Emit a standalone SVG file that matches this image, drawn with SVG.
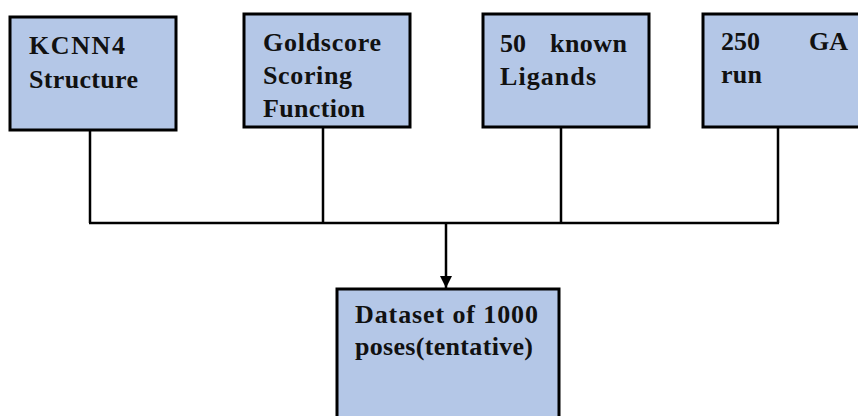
<svg xmlns="http://www.w3.org/2000/svg" width="858" height="416" viewBox="0 0 858 416">
<style>
.box{fill:#B4C7E7;stroke:#000;stroke-width:3}
.lbl{font-family:"Liberation Serif","Times New Roman",serif;font-weight:bold;font-size:26px;fill:#111}
.conn{stroke:#000;stroke-width:2.5;fill:none}
</style>
<defs>
<marker id="arr" markerUnits="userSpaceOnUse" markerWidth="14" markerHeight="12" refX="12" refY="6" orient="auto">
<path d="M0,0 L12,6 L0,12 z" fill="#000"/>
</marker>
</defs>
<rect width="858" height="416" fill="#fff"/>
<g id="connectors">
<path class="conn" d="M90,130 V223 M323,127 V223 M561,127 V223 M778,127 V223 M89,223 H779"/>
<path class="conn" d="M446,223 V288" marker-end="url(#arr)"/>
</g>
<g id="kcnn4">
<rect class="box" x="10" y="17" width="166" height="113"/>
<text class="lbl" x="29" y="54" textLength="96" lengthAdjust="spacing">KCNN4</text>
<text class="lbl" x="29" y="88" textLength="109" lengthAdjust="spacing">Structure</text>
</g>
<g id="goldscore">
<rect class="box" x="244" y="14" width="166" height="113"/>
<text class="lbl" x="263" y="51" textLength="118" lengthAdjust="spacing">Goldscore</text>
<text class="lbl" x="263" y="84" textLength="89" lengthAdjust="spacing">Scoring</text>
<text class="lbl" x="263" y="117" textLength="102" lengthAdjust="spacing">Function</text>
</g>
<g id="ligands">
<rect class="box" x="483" y="14" width="166" height="113"/>
<text class="lbl" y="52"><tspan x="500">50</tspan><tspan x="550" textLength="77" lengthAdjust="spacing">known</tspan></text>
<text class="lbl" x="500" y="85" textLength="96" lengthAdjust="spacing">Ligands</text>
</g>
<g id="garun">
<rect class="box" x="703" y="14" width="170" height="113"/>
<text class="lbl" y="50"><tspan x="721">250</tspan><tspan x="809">GA</tspan></text>
<text class="lbl" x="721" y="83" textLength="41" lengthAdjust="spacing">run</text>
</g>
<g id="dataset">
<rect class="box" x="337" y="289" width="222" height="140"/>
<text class="lbl" x="355" y="323" textLength="183" lengthAdjust="spacing">Dataset of 1000</text>
<text class="lbl" x="355" y="355" textLength="178" lengthAdjust="spacing">poses(tentative)</text>
</g>
</svg>
